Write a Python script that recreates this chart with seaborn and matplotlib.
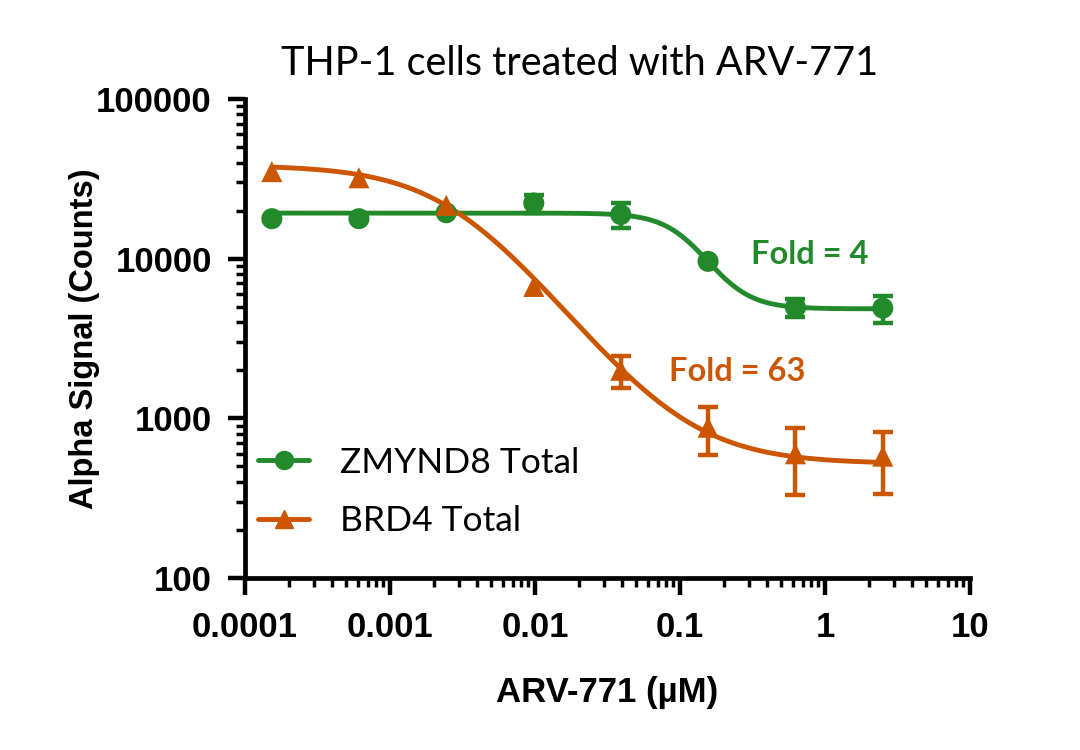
import numpy as np
import pandas as pd
import matplotlib
matplotlib.use('Agg')
import matplotlib.pyplot as plt
from matplotlib.lines import Line2D
from matplotlib.ticker import LogLocator, FuncFormatter, NullFormatter
import seaborn as sns

sns.set_style('ticks', {'axes.edgecolor': 'black', 'xtick.color': 'black',
                        'ytick.color': 'black', 'text.color': 'black',
                        'axes.labelcolor': 'black'})

# ARV-771 doses (uM), 4-fold dilution
conc = [0.000153, 0.00061, 0.00244, 0.0098, 0.039, 0.156, 0.625, 2.5]

# sd of 0 = error bar shorter than the symbol, not drawn
zmynd8_mean = [17800, 17800, 19400, 22300, 18900, 9620, 4950, 4900]
zmynd8_sd = [0, 0, 0, 2900, 3400, 0, 640, 950]

brd4_mean = [35100, 32100, 21600, 6700, 2000, 880, 600, 580]
brd4_sd = [0, 0, 0, 0, 440, 290, 270, 245]

# 4PL fit parameters: top, bottom, IC50, hill
zmynd8_fit = (19300, 4850, 0.122, 2.9)
brd4_fit = (38500, 520, 0.0029, 1.22)

green = '#238A2C'
orange = '#CC5500'

df = pd.DataFrame({
    'conc': conc * 2,
    'signal': zmynd8_mean + brd4_mean,
    'sd': zmynd8_sd + brd4_sd,
    'target': ['ZMYND8 Total'] * len(conc) + ['BRD4 Total'] * len(conc),
})


def four_pl(x, top, bottom, ic50, hill):
    return bottom + (top - bottom) / (1 + (x / ic50) ** hill)


xfit = np.geomspace(conc[0], conc[-1], 300)
fit_df = pd.DataFrame({
    'conc': np.concatenate([xfit, xfit]),
    'signal': np.concatenate([four_pl(xfit, *zmynd8_fit), four_pl(xfit, *brd4_fit)]),
    'target': ['ZMYND8 Total'] * len(xfit) + ['BRD4 Total'] * len(xfit),
})

palette = {'ZMYND8 Total': green, 'BRD4 Total': orange}
markers = {'ZMYND8 Total': 'o', 'BRD4 Total': '^'}

fig = plt.figure(figsize=(10.8, 7.5), dpi=100)
ax = fig.add_axes([0.2269, 0.2293, 0.6713, 0.6387])

sns.lineplot(data=fit_df, x='conc', y='signal', hue='target', palette=palette,
             linewidth=3.5, legend=False, ax=ax, zorder=2)

bars = df[df['sd'] > 0]
for name, sub in bars.groupby('target'):
    ax.errorbar(sub['conc'], sub['signal'], yerr=sub['sd'], fmt='none',
                ecolor=palette[name], elinewidth=3.2, capsize=7.5, capthick=3.2, zorder=3)

sns.scatterplot(data=df, x='conc', y='signal', hue='target', style='target',
                palette=palette, markers=markers, s=230, edgecolor='none',
                legend=False, ax=ax, zorder=4)

ax.set_xscale('log')
ax.set_yscale('log')
ax.set_xlim(1e-4, 10)
ax.set_ylim(100, 1e5)

fmt = FuncFormatter(lambda v, p: '{:g}'.format(v))
for axis in (ax.xaxis, ax.yaxis):
    axis.set_major_locator(LogLocator(base=10, numticks=10))
    axis.set_minor_locator(LogLocator(base=10, subs=np.arange(2, 10), numticks=20))
    axis.set_major_formatter(fmt)
    axis.set_minor_formatter(NullFormatter())

sns.despine(ax=ax)
for s in ('left', 'bottom'):
    ax.spines[s].set_linewidth(3.4)
    ax.spines[s].set_color('black')
ax.tick_params(which='major', direction='out', length=12, width=3.2, pad=12,
               labelsize=25, colors='black')
ax.tick_params(which='minor', direction='out', length=6.5, width=2.5, colors='black')
for lab in ax.get_xticklabels() + ax.get_yticklabels():
    lab.set_fontfamily('Liberation Sans')
    lab.set_fontweight('bold')

ax.set_xlabel('ARV-771 (µM)', fontsize=25, fontweight='bold', family='Liberation Sans')
ax.set_ylabel('Alpha Signal (Counts)', fontsize=23.5, fontweight='bold', family='Liberation Sans')
ax.xaxis.set_label_coords(0.5, -0.205)
ax.yaxis.set_label_coords(-0.2, 0.5)

fig.text(0.537, 0.915, 'THP-1 cells treated with ARV-771', fontsize=28.5,
         family='Lato', ha='center', va='center', color='black')

ax.text(0.307, 10590, 'Fold = 4', color=green, fontsize=23.5, fontweight='bold',
        family='Lato', ha='left', va='center')
ax.text(0.0834, 1967, 'Fold = 63', color=orange, fontsize=23.5, fontweight='bold',
        family='Lato', ha='left', va='center')

handles = [Line2D([], [], color=palette[k], marker=markers[k], lw=3.5, markersize=13)
           for k in ['ZMYND8 Total', 'BRD4 Total']]
ax.legend(handles, ['ZMYND8 Total', 'BRD4 Total'], loc='center left',
          bbox_to_anchor=(0.018, 0.18), frameon=False,
          prop={'family': 'Lato', 'size': 25.5}, handlelength=1.45,
          handletextpad=0.85, labelspacing=0.75, borderpad=0, borderaxespad=0)

fig.savefig('out.png', dpi=100)
